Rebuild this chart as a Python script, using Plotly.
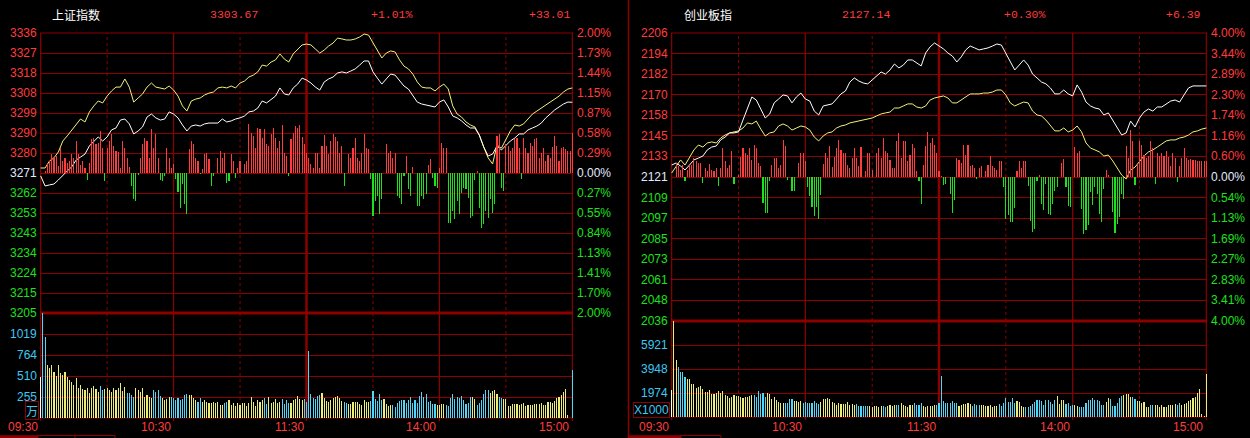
import numpy as np
import plotly.graph_objects as go

# ---------------- 上证指数 ----------------
sh_name = "上证指数"
sh_header = ["3303.67", "+1.01%", "+33.01"]
sh_prev_close = 3270.66
sh_span_pct = 2.0

# price every 2 minutes from 09:30 (white = index, yellow = unweighted)
sh_white = [
    3269.3, 3264.6, 3265.1, 3265.5, 3267.4, 3269.7, 3271.6, 3273.5, 3276.7, 3278.1,
    3279.5, 3283.3, 3285.6, 3287.5, 3285.6, 3287.5, 3290.8, 3291.7, 3295.4, 3295.9,
    3293.6, 3288.9, 3290.3, 3292.2, 3296.8, 3298.2, 3296.4, 3295.4, 3295.9, 3299.2,
    3298.2, 3296.4, 3293.1, 3290.3, 3292.6, 3293.1, 3292.6, 3293.6, 3294.0, 3294.0,
    3294.0, 3295.9, 3294.5, 3295.0, 3295.9, 3296.4, 3297.3, 3299.2, 3299.6, 3301.0,
    3304.3, 3303.4, 3305.2, 3306.6, 3310.4, 3307.6, 3307.1, 3310.4, 3312.2, 3315.0,
    3314.1, 3312.7, 3310.8, 3309.4, 3313.2, 3314.6, 3315.5, 3317.4, 3317.9, 3317.4,
    3318.3, 3319.3, 3321.1, 3323.0, 3323.0, 3317.9, 3315.0, 3312.2, 3314.6, 3316.9,
    3316.4, 3313.6, 3311.3, 3309.9, 3306.6, 3303.8, 3302.9, 3302.4, 3302.0, 3301.5,
    3303.8, 3304.8, 3301.5, 3297.3, 3296.4, 3295.0, 3293.1, 3291.7, 3291.7, 3288.4,
    3282.8, 3278.6, 3279.5, 3283.3, 3281.4, 3283.7, 3285.6, 3287.0, 3288.9, 3288.9,
    3290.8, 3291.7, 3292.6, 3294.0, 3296.4, 3298.2, 3300.1, 3301.5, 3302.9, 3303.8, 3303.7,
]
sh_yellow = [
    3273.0, 3273.0, 3276.3, 3277.7, 3280.5, 3285.6, 3288.0, 3290.8, 3293.1, 3295.9,
    3294.5, 3299.2, 3302.0, 3304.3, 3303.4, 3306.6, 3309.0, 3310.8, 3310.8, 3314.6,
    3310.8, 3303.8, 3305.7, 3307.6, 3310.8, 3312.7, 3310.8, 3310.4, 3309.9, 3311.3,
    3309.4, 3306.6, 3302.0, 3299.6, 3304.3, 3305.2, 3305.7, 3307.1, 3308.0, 3308.5,
    3310.4, 3310.8, 3310.4, 3311.3, 3310.4, 3312.7, 3313.6, 3315.5, 3316.4, 3317.9,
    3321.1, 3320.6, 3322.5, 3323.5, 3326.3, 3323.9, 3322.5, 3326.3, 3328.6, 3330.5,
    3330.9, 3330.5, 3328.6, 3326.7, 3328.1, 3330.0, 3331.4, 3333.7, 3333.3, 3332.8,
    3332.8, 3333.3, 3334.2, 3335.6, 3335.1, 3331.4, 3327.7, 3324.4, 3326.7, 3327.7,
    3327.2, 3323.5, 3320.6, 3319.3, 3316.9, 3313.2, 3310.8, 3310.4, 3310.4, 3309.0,
    3310.8, 3312.2, 3309.9, 3302.0, 3298.2, 3296.8, 3294.5, 3293.1, 3292.2, 3288.4,
    3282.8, 3277.7, 3274.9, 3283.7, 3282.3, 3286.5, 3290.3, 3293.1, 3292.6, 3293.6,
    3295.9, 3298.2, 3299.6, 3301.0, 3302.0, 3303.4, 3305.2, 3306.6, 3308.5, 3309.9, 3310.4,
]
# buy/sell strength per minute (red up / green down)
sh_strength = [
    0, 0, 2, 9, 12, 19, 16, 17, 7, 25,
    12, 15, 10, 12, 19, 15, 32, 19, 8, 12,
    5, -7, 10, 34, 35, 29, 30, 42, 25, -8,
    25, 32, 39, 27, 22, 21, 5, 32, 25, 15,
    6, -13, -26, -28, -2, 15, 29, 35, 32, 15,
    44, 25, 39, 15, -7, -8, -3, 25, 15, 5,
    9, -6, -19, -35, -11, -31, -41, 24, 32, 29,
    15, 12, -1, 4, 19, 20, 14, -13, -3, 0,
    15, 22, 15, 20, -10, -8, 19, 12, -5, 5,
    12, 0, 9, 12, 49, 40, 37, 25, 45, 44,
    35, 44, 29, 27, 39, 45, 35, 25, 32, 48,
    20, 17, -3, 34, 40, 47, 45, 48, 36, 29,
    20, 15, 9, 5, 20, 20, 5, 27, 38, 27,
    19, 32, 39, 36, 32, 20, 27, -13, 0, 19,
    15, 25, 35, 15, 12, 20, 39, 25, 24, -6,
    -43, -28, -23, -41, -26, 0, 29, 20, 22, 15,
    20, -23, -25, -31, -3, 17, -16, -23, 6, 0,
    -33, -33, -23, -26, -21, 8, 14, -5, -13, -15,
    5, 30, 25, 25, -50, -50, -38, -46, -28, -41,
    -20, -15, -16, -25, -45, -43, -7, 2, -35, -55,
    -51, -38, -45, -26, -40, -31, 37, 39, -15, -18,
    29, 27, 22, 25, 34, 35, 25, -6, 35, 25,
    20, 30, 27, 34, 35, 15, 20, 25, 12, 18,
    15, 26, 37, 27, 12, 25, 26, 24, 22, 22,
    40,
]
# volume per minute (万)
sh_volume = [
    500, 1290, 985, 640, 610, 640, 560, 510, 640, 540,
    520, 560, 500, 460, 440, 400, 480, 370, 400, 350,
    340, 360, 300, 370, 390, 350, 320, 390, 340, 350,
    360, 340, 310, 370, 340, 370, 420, 330, 380, 300,
    300, 280, 260, 360, 340, 320, 370, 250, 280, 260,
    240, 340, 310, 340, 270, 240, 220, 230, 250, 250,
    240, 220, 240, 220, 230, 280, 290, 280, 280, 240,
    220, 200, 240, 200, 220, 200, 185, 180, 200, 180,
    200, 160, 160, 180, 200, 220, 160, 180, 145, 180,
    160, 180, 185, 145, 180, 260, 200, 145, 220, 200,
    220, 240, 170, 260, 185, 200, 230, 180, 200, 230,
    170, 220, 180, 180, 220, 235, 265, 230, 220, 230,
    200, 815, 290, 240, 230, 265, 280, 300, 245, 205,
    200, 220, 240, 260, 265, 240, 210, 200, 180, 170,
    170, 195, 195, 195, 170, 160, 220, 200, 195, 210,
    330, 225, 210, 290, 220, 230, 170, 145, 160, 155,
    135, 180, 210, 220, 220, 185, 220, 250, 180, 220,
    185, 265, 315, 250, 290, 200, 210, 170, 170, 160,
    160, 170, 165, 160, 145, 245, 290, 230, 250, 240,
    265, 220, 170, 185, 250, 250, 225, 160, 185, 220,
    290, 345, 340, 305, 330, 340, 290, 250, 240, 225,
    225, 145, 145, 165, 170, 170, 160, 170, 185, 145,
    160, 160, 160, 170, 170, 170, 180, 160, 160, 195,
    195, 180, 210, 240, 250, 280, 310, 355, 35, 0,
    580,
]
sh_volume_top = 1274
sh_price_labels = ["3336", "3327", "3318", "3308", "3299", "3290", "3280", "3271",
                   "3262", "3253", "3243", "3234", "3224", "3215", "3205"]
sh_pct_labels = ["2.00%", "1.73%", "1.44%", "1.15%", "0.87%", "0.58%", "0.29%", "0.00%",
                 "0.27%", "0.55%", "0.84%", "1.13%", "1.41%", "1.70%", "2.00%"]
sh_volume_labels = ["1019", "764", "510", "255"]
sh_volume_unit = "万"

# ---------------- 创业板指 ----------------
cy_name = "创业板指"
cy_header = ["2127.14", "+0.30%", "+6.39"]
cy_prev_close = 2120.75
cy_span_pct = 4.0

cy_white = [
    2127.8, 2129.0, 2127.2, 2124.9, 2127.8, 2130.8, 2131.9, 2133.1, 2136.7, 2138.4,
    2139.0, 2142.6, 2144.3, 2146.7, 2146.7, 2147.3, 2154.3, 2160.8, 2167.9, 2166.1,
    2160.8, 2155.5, 2157.9, 2164.4, 2166.7, 2169.1, 2168.5, 2164.4, 2167.9, 2170.2,
    2166.7, 2165.5, 2159.6, 2157.3, 2162.6, 2163.2, 2163.8, 2166.7, 2169.7, 2171.4,
    2176.7, 2179.1, 2177.3, 2176.1, 2175.6, 2177.9, 2180.3, 2182.6, 2181.4, 2183.8,
    2187.3, 2185.0, 2186.7, 2189.7, 2189.7, 2187.9, 2186.2, 2193.8, 2197.4, 2199.7,
    2197.9, 2196.2, 2193.8, 2192.0, 2188.5, 2191.5, 2195.6, 2197.9, 2196.8, 2195.6,
    2196.2, 2196.8, 2197.9, 2199.1, 2198.5, 2193.8, 2188.5, 2183.8, 2186.7, 2189.7,
    2186.7, 2181.4, 2179.1, 2176.7, 2175.6, 2173.2, 2169.7, 2169.7, 2172.0, 2169.7,
    2168.5, 2175.0, 2170.8, 2164.9, 2162.6, 2161.4, 2160.8, 2157.3, 2158.5, 2154.3,
    2150.2, 2145.5, 2146.7, 2153.7, 2150.2, 2155.5, 2159.0, 2160.8, 2159.6, 2162.0,
    2162.0, 2163.8, 2165.5, 2166.1, 2164.9, 2169.1, 2173.2, 2174.4, 2174.4, 2174.4, 2174.4,
]
cy_yellow = [
    2123.1, 2126.6, 2130.8, 2127.8, 2132.5, 2136.7, 2139.6, 2138.4, 2140.8, 2141.4,
    2140.8, 2143.7, 2145.5, 2146.7, 2147.3, 2147.9, 2149.6, 2152.6, 2152.0, 2153.7,
    2149.0, 2144.9, 2146.7, 2147.3, 2150.8, 2152.0, 2150.8, 2148.4, 2149.6, 2150.8,
    2150.2, 2148.4, 2144.3, 2142.0, 2144.9, 2146.7, 2147.3, 2149.6, 2150.8, 2151.4,
    2152.6, 2153.2, 2153.7, 2154.3, 2154.9, 2155.5, 2156.7, 2157.9, 2158.5, 2159.0,
    2161.4, 2161.4, 2162.6, 2163.8, 2163.8, 2162.0, 2161.4, 2162.6, 2166.1, 2167.3,
    2167.9, 2168.5, 2167.3, 2164.4, 2164.4, 2166.1, 2167.9, 2169.7, 2169.7, 2169.7,
    2170.2, 2170.2, 2170.8, 2172.0, 2172.0, 2169.1, 2164.4, 2162.6, 2163.8, 2164.9,
    2164.4, 2159.6, 2157.3, 2156.7, 2154.3, 2150.8, 2147.9, 2147.9, 2149.6, 2147.3,
    2148.4, 2150.8, 2147.3, 2140.8, 2137.8, 2136.7, 2135.5, 2133.1, 2133.7, 2130.2,
    2126.1, 2121.9, 2119.6, 2124.9, 2126.6, 2130.2, 2133.1, 2135.5, 2136.7, 2138.4,
    2140.2, 2142.0, 2142.6, 2142.6, 2143.7, 2144.3, 2145.5, 2147.3, 2147.9, 2149.0, 2149.6,
]
cy_strength = [
    0, 0, 14, 11, 7, 12, -4, 7, 12, 12,
    19, 16, 14, 14, -6, 9, 6, 13, 7, 6,
    9, -9, 9, 29, 16, 9, 12, 26, -7, 0,
    2, 20, 29, 24, 22, 29, 17, 32, 29, 14,
    11, -26, -36, -36, -4, 12, 19, 19, 9, 12,
    37, 31, -3, 0, -14, -14, 0, 14, 24, 24,
    16, -10, -19, -30, -39, -30, -42, -18, 13, 24,
    19, 31, 10, 20, 29, 37, 27, 24, 24, 12,
    9, 19, 29, 19, 11, 30, 0, 6, 24, 24,
    7, 0, 24, 29, 19, 39, 26, 24, 17, 9,
    9, 36, 44, 19, 36, 36, 16, 22, 33, 29,
    6, -4, -27, 12, 31, 45, 34, 39, 32, 24,
    6, 1, -8, -7, 0, -17, -36, -23, 19, 17,
    14, 32, 22, 32, 11, 12, 9, -2, 9, 11,
    0, 6, 12, 21, 11, 9, 7, 16, 16, -10,
    -42, -38, -45, -45, -31, 6, 16, 9, 16, 16,
    -9, -44, -55, -52, -4, 2, -27, -33, -7, -37,
    -38, -27, -14, -10, 0, 14, 18, -10, -29, -30,
    0, 30, 24, 26, -32, -57, -53, -48, -15, -28,
    -10, -17, -37, -45, -12, 7, 2, 0, -35, -56,
    -47, -40, -17, -22, 31, 19, 47, 36, -8, 12,
    36, 32, 22, 19, 21, 36, 29, -7, 24, 21,
    24, 21, 26, 20, 11, 24, 19, -5, 11, 19,
    29, 19, 17, 18, 17, 17, 16, 16, 16, 16,
    16,
]
# volume per minute (x1000)
cy_volume = [
    2220, 8000, 4690, 4110, 3700, 3700, 3260, 3100, 3100, 2710,
    2710, 2360, 2490, 2550, 2280, 2080, 2080, 2220, 1890, 1890,
    1950, 2140, 1950, 2140, 1810, 1730, 1540, 1620, 1810, 1730,
    1730, 1670, 1540, 1670, 1620, 1730, 1810, 1780, 1620, 2170,
    1890, 1950, 1620, 2000, 1890, 1500, 1620, 1400, 1260, 1125,
    1125, 1125, 1180, 1450, 1450, 1320, 1320, 1260, 1320, 1180,
    1260, 1125, 1180, 1125, 1320, 1125, 1070, 1260, 1510, 1510,
    1560, 1510, 1260, 1125, 990, 1125, 1070, 1040, 1070, 1260,
    990, 1070, 990, 1040, 905, 905, 905, 905, 905, 905,
    850, 905, 905, 850, 905, 905, 850, 905, 960, 905,
    990, 990, 960, 1125, 990, 905, 820, 960, 990, 1125,
    990, 990, 1125, 905, 850, 905, 905, 905, 990, 990,
    1125, 3370, 1340, 1180, 1125, 1180, 1320, 1180, 1125, 905,
    990, 1070, 1070, 1125, 1070, 905, 1070, 990, 990, 990,
    990, 905, 905, 990, 850, 905, 905, 1070, 905, 1125,
    1540, 1230, 1230, 1540, 1125, 1320, 1230, 905, 800, 800,
    850, 905, 1070, 1260, 1400, 1400, 1320, 990, 1400, 1400,
    1260, 1070, 1400, 1730, 1070, 1400, 1400, 1070, 1125, 905,
    990, 990, 905, 850, 850, 790, 1125, 1400, 1400, 1560,
    1400, 1400, 1320, 990, 990, 1230, 1560, 1510, 905, 905,
    1125, 1540, 1730, 1810, 1890, 1890, 1670, 1670, 1510, 1320,
    1320, 1180, 1260, 850, 850, 990, 990, 990, 990, 850,
    990, 850, 850, 990, 990, 990, 1070, 990, 1125, 990,
    1070, 1125, 1320, 1400, 1590, 1670, 1970, 2300, 250, 80,
    3540,
]
cy_volume_top = 7895
cy_price_labels = ["2206", "2194", "2182", "2170", "2158", "2145", "2133", "2121",
                   "2109", "2097", "2085", "2073", "2061", "2048", "2036"]
cy_pct_labels = ["4.00%", "3.44%", "2.89%", "2.30%", "1.74%", "1.16%", "0.60%", "0.00%",
                 "0.54%", "1.13%", "1.69%", "2.27%", "2.83%", "3.41%", "4.00%"]
cy_volume_labels = ["5921", "3948", "1974"]
cy_volume_unit = "X1000"

time_labels = ["09:30", "10:30", "11:30", "14:00", "15:00"]
time_minutes = [0, 60, 120, 180, 240]
half_hours = [30, 90, 150, 210]
minutes = list(range(241))
minutes_2 = list(range(0, 241, 2))

# ---------------- style ----------------
W, H = 1250, 438
GRID = "#8c0000"
RED = "#ff3c3c"
GREEN = "#1ee11e"
LABEL_CYAN = "#3ec8f2"
ZERO = "#e2eaff"
LINE_YELLOW = "#f2f27a"
VOL_YELLOW = "#ecec78"
VOL_CYAN = "#52d6f8"
NUM_FONT = "Liberation Sans, Arial"
MONO_FONT = "Liberation Mono, DejaVu Sans Mono"
CJK_FONT = "Noto Sans CJK SC"
BAR_W = 0.05   # very thin: plotly widens each bar to one whole pixel


def px(x):
    return x / W


def py(y):
    return 1 - y / H


panels = [
    dict(name=sh_name, header=sh_header, prev=sh_prev_close, span=sh_span_pct,
         white=sh_white, yellow=sh_yellow, strength=sh_strength, volume=sh_volume,
         vtop=sh_volume_top, plabels=sh_price_labels, rlabels=sh_pct_labels,
         vlabels=sh_volume_labels, unit=sh_volume_unit),
    dict(name=cy_name, header=cy_header, prev=cy_prev_close, span=cy_span_pct,
         white=cy_white, yellow=cy_yellow, strength=cy_strength, volume=cy_volume,
         vtop=cy_volume_top, plabels=cy_price_labels, rlabels=cy_pct_labels,
         vlabels=cy_volume_labels, unit=cy_volume_unit),
]
frames = [
    dict(left=40, right=573, top=33, mid=313, bottom=418,
         head=[76, 234, 392, 550], unit_x=32, unit_font=CJK_FONT,
         tab=(0, 38, 115, [38, 75, 115])),
    dict(left=671, right=1207, top=33, mid=321, bottom=417,
         head=[708, 866, 1025, 1183], unit_x=651, unit_font=NUM_FONT,
         tab=(629, 681, 721, [681, 721])),
]

fig = go.Figure()
layout = {}
annotations = []
shapes = []


def text(x, y, s, color, size=12, family=NUM_FONT, xanchor="center", xref="paper", yref="paper", **kw):
    annotations.append(dict(x=x, y=y, xref=xref, yref=yref, text=s, showarrow=False,
                            xanchor=xanchor, yanchor="middle",
                            font=dict(color=color, size=size, family=family), **kw))


for i, (p, f) in enumerate(zip(panels, frames)):
    xa = "x" if i == 0 else "x2"
    ya_p = "y" if i == 0 else "y4"
    ya_s = "y2" if i == 0 else "y5"
    ya_v = "y3" if i == 0 else "y6"
    key = lambda a: ("xaxis" if a[0] == "x" else "yaxis") + a[1:]

    lo = p["prev"] * (1 - p["span"] / 100)
    hi = p["prev"] * (1 + p["span"] / 100)
    pticks = np.linspace(hi, lo, len(p["plabels"]))
    vticks = np.linspace(0, p["vtop"], len(p["vlabels"]) + 2)[1:-1][::-1]
    half_px = (f["mid"] - f["top"]) / 2

    layout[key(xa)] = dict(domain=[px(f["left"]), px(f["right"])], range=[-0.3, 240.3],
                           visible=False, anchor=ya_p, fixedrange=True)
    layout[key(ya_p)] = dict(domain=[py(f["mid"]), py(f["top"])], range=[lo, hi],
                             tickvals=pticks, showgrid=True, gridcolor=GRID, gridwidth=1,
                             showticklabels=False, zeroline=False, showline=False,
                             ticks="", anchor=xa, fixedrange=True)
    layout[key(ya_s)] = dict(overlaying=ya_p, range=[-half_px, half_px], visible=False,
                             anchor=xa, fixedrange=True)
    layout[key(ya_v)] = dict(domain=[py(f["bottom"]), py(f["mid"])], range=[0, p["vtop"]],
                             tickvals=vticks, showgrid=True, gridcolor=GRID, gridwidth=1,
                             showticklabels=False, zeroline=False, showline=False,
                             ticks="", anchor=xa, fixedrange=True)

    # strength bars around the previous close
    fig.add_trace(go.Bar(x=minutes, y=p["strength"], xaxis=xa, yaxis=ya_s, width=BAR_W,
                         marker=dict(color=[RED if v > 0 else GREEN for v in p["strength"]],
                                     line=dict(width=0)),
                         hoverinfo="skip"))
    # volume bars: first = auction, then yellow when the index rose, cyan when it fell
    w = p["white"]
    vcol = ["#ffffff"]
    for m in range(1, 241):
        k = min((m + 1) // 2, len(w) - 1)
        vcol.append(VOL_YELLOW if w[k] >= w[k - 1] else VOL_CYAN)
    fig.add_trace(go.Bar(x=minutes, y=p["volume"], xaxis=xa, yaxis=ya_v, width=BAR_W,
                         marker=dict(color=vcol, line=dict(width=0)), hoverinfo="skip"))
    # price lines
    fig.add_trace(go.Scatter(x=minutes_2, y=p["yellow"], xaxis=xa, yaxis=ya_p, mode="lines",
                             line=dict(color=LINE_YELLOW, width=1), hoverinfo="skip"))
    fig.add_trace(go.Scatter(x=minutes_2, y=p["white"], xaxis=xa, yaxis=ya_p, mode="lines",
                             line=dict(color="#ffffff", width=1), hoverinfo="skip"))

    # frame lines
    for m in time_minutes:
        shapes.append(dict(type="line", xref=xa, yref="paper", x0=m, x1=m,
                           y0=py(f["bottom"]), y1=py(f["top"]),
                           line=dict(color=GRID, width=2.5 if m == 120 else 1.2), layer="below"))
        shapes.append(dict(type="line", xref=xa, yref="paper", x0=m, x1=m,
                           y0=py(f["bottom"] + 3), y1=py(f["bottom"]),
                           line=dict(color=GRID, width=1.2)))
    for m in half_hours:
        shapes.append(dict(type="line", xref=xa, yref="paper", x0=m, x1=m,
                           y0=py(f["bottom"]), y1=py(f["top"]),
                           line=dict(color=GRID, width=1, dash="dot"), layer="below"))
    for yy, wd in [(f["top"], 1.2), (f["mid"], 3), (f["bottom"], 1.2)]:
        shapes.append(dict(type="line", xref="paper", yref="paper",
                           x0=px(f["left"]), x1=px(f["right"]), y0=py(yy), y1=py(yy),
                           line=dict(color=GRID, width=wd), layer="below"))

    # bottom tabs
    t0, t1, t2, ticks_x = f["tab"]
    shapes.append(dict(type="line", xref="paper", yref="paper", x0=px(t0), x1=px(t1),
                       y0=py(436.8), y1=py(436.8), line=dict(color=GRID, width=3)))
    shapes.append(dict(type="line", xref="paper", yref="paper", x0=px(t1), x1=px(t2),
                       y0=py(435.5), y1=py(435.5), line=dict(color=GRID, width=1)))
    for tx in ticks_x:
        shapes.append(dict(type="line", xref="paper", yref="paper", x0=px(tx), x1=px(tx),
                           y0=py(438), y1=py(435.5), line=dict(color=GRID, width=1)))

    # axis labels
    n = len(p["plabels"])
    for j, (v, lab, rlab) in enumerate(zip(pticks, p["plabels"], p["rlabels"])):
        col = RED if j < n // 2 else (ZERO if j == n // 2 else GREEN)
        text(px(f["left"] - 1), v, lab, col, xanchor="right", yref=ya_p)
        text(px(f["right"] + 2), v, rlab, col, xanchor="left", yref=ya_p)
    for v, lab in zip(vticks, p["vlabels"]):
        text(px(f["left"] - 1), v, lab, LABEL_CYAN, xanchor="right", yref=ya_v)
    text(px(f["unit_x"]), py(410), p["unit"], LABEL_CYAN, size=12, family=f["unit_font"],
         bordercolor=GRID, borderwidth=1, borderpad=0)
    for m, lab in zip(time_minutes, time_labels):
        text(m, py(427), lab, RED, xanchor="right", xref=xa, xshift=-1)

    # header
    hx = f["head"]
    text(px(hx[0]), py(14), p["name"], "#ffffff", size=12, family=CJK_FONT)
    for x, s in zip(hx[1:], p["header"]):
        text(px(x), py(14), s, RED, size=11.5, family=MONO_FONT)

# panel separator
shapes.append(dict(type="line", xref="paper", yref="paper", x0=px(628.5), x1=px(628.5),
                   y0=0, y1=1, line=dict(color=GRID, width=1.5)))

fig.update_layout(
    width=W, height=H, autosize=False,
    margin=dict(l=0, r=0, t=0, b=0),
    paper_bgcolor="black", plot_bgcolor="black",
    showlegend=False, barmode="overlay", bargap=0,
    annotations=annotations, shapes=shapes,
    **layout,
)

fig.write_html("out.html", config={"displayModeBar": False},
               post_script="document.body.style.margin='0';")
